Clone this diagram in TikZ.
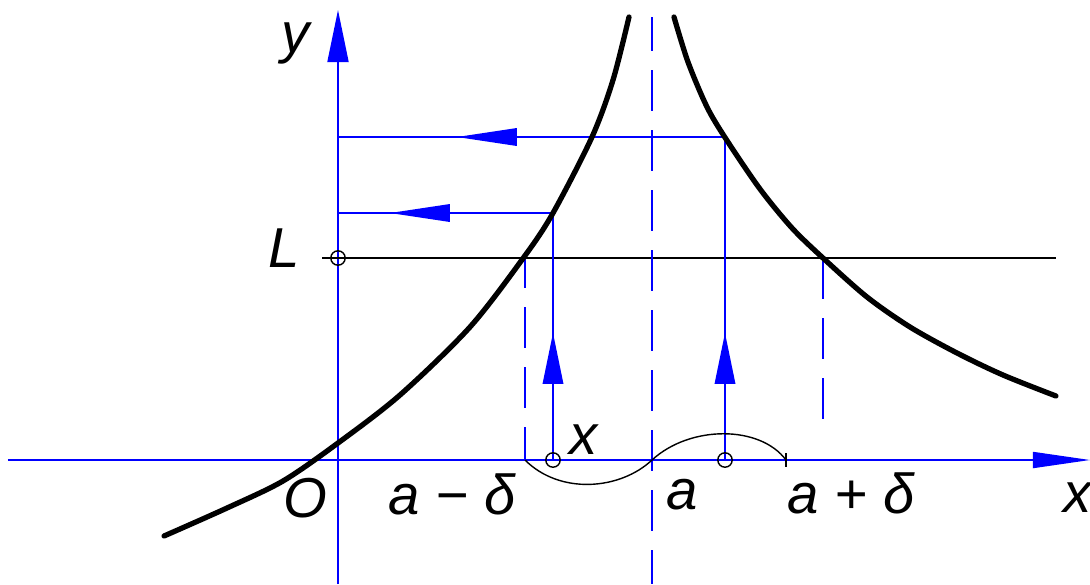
\documentclass[tikz,border=0pt]{standalone}
\usepackage{fontspec}
\setmainfont{Liberation Sans}
\usetikzlibrary{arrows.meta,decorations.markings}
\definecolor{axisblue}{RGB}{0,0,255}
\tikzset{
  axisline/.style={draw=axisblue, line width=0.5pt},
  dashguide/.style={draw=axisblue, line width=0.5pt, dash pattern=on 4.1mm off 1.9mm},
  branch/.style={line width=1.5pt, line cap=round, line join=round},
  hairline/.style={draw=black, line width=0.4pt},
  marker/.style={draw=black, line width=0.4pt},
  lbl/.style={font=\fontsize{16}{18}\selectfont\itshape, inner sep=0pt},
  leftarrow/.style={postaction={decorate}, decoration={markings,
      mark=at position #1 with {\arrow{Triangle[length=6mm,width=1.75mm]}}}},
  uparrow/.style={postaction={decorate}, decoration={markings,
      mark=at position #1 with {\arrow{Triangle[length=5.1mm,width=2.05mm]}}}},
}
\begin{document}
\begin{tikzpicture}[x=0.01cm, y=-0.01cm]
  \useasboundingbox (0,0) rectangle (1090,584);
  % key points
  \coordinate (yBot) at (338,584);
  \coordinate (yTop) at (338,10);
  \coordinate (xLeft) at (8,460);
  \coordinate (xRight) at (1090,460);
  \coordinate (Lpt) at (338,258);
  \coordinate (Lstart) at (322,258);
  \coordinate (Lend) at (1056,258);
  \coordinate (aTop) at (652,17);
  \coordinate (aBot) at (652,584);
  \coordinate (a) at (652,460);
  \coordinate (amd) at (525,460);
  \coordinate (amdL) at (525,258);
  \coordinate (apdL) at (823,258);
  \coordinate (apdE) at (823,435);
  \coordinate (x1) at (553,460);
  \coordinate (f1) at (553,213);
  \coordinate (y1) at (338,213);
  \coordinate (x2) at (725,460);
  \coordinate (f2) at (725,137);
  \coordinate (y2) at (338,137);
  \coordinate (apd) at (786,460);
  \coordinate (tickT) at (786,453);
  \coordinate (tickB) at (786,467);

  % axes
  \draw[axisline, -{Triangle[length=5.2mm,width=2.1mm]}] (yBot) -- (yTop);
  \draw[axisline, -{Triangle[length=5.7mm,width=1.6mm]}] (xLeft) -- (xRight);
  \draw[hairline, line width=0.5pt] (Lstart) -- (Lend);
  \draw[dashguide, dash phase=0.7mm] (aTop) -- (aBot);
  \draw[dashguide, dash phase=1.1mm] (amdL) -- (amd);
  \draw[dashguide] (apdL) -- (apdE);

  % projections
  \draw[axisline, uparrow=1.27cm] (x1) -- (f1);
  \draw[axisline, leftarrow=1.63cm] (f1) -- (y1);
  \draw[axisline, uparrow=1.27cm] (x2) -- (f2);
  \draw[axisline, leftarrow=2.68cm] (f2) -- (y2);

  % the two branches
  \draw[branch] plot[smooth] coordinates {(164,536) (227,508) (283,481) (338,443)
    (400,395) (470,327) (524,257) (553,213) (592,137) (613,80) (629,17)};
  \draw[branch] plot[smooth] coordinates {(674,17) (688,62) (707,107) (726,139)
    (760,189) (792,228) (823,258) (867,297) (910,327) (957,353) (1003,375) (1056,396)};

  % neighbourhood
  \draw[hairline] (amd) .. controls (560,495) and (620,490) .. (a)
    .. controls (690,425) and (760,425) .. (apd);
  \draw[hairline] (tickT) -- (tickB);
  \draw[marker] (Lpt) circle[radius=0.72mm];
  \draw[marker] (x1) circle[radius=0.72mm];
  \draw[marker] (x2) circle[radius=0.72mm];

  % labels
  \node[lbl] (ylab) at (296,43) {y};
  \node[lbl] (Llab) at (284,248) {L};
  \node[lbl] (Olab) at (305,498) {O};
  \node[lbl] (amdlab) at (452,494) {a − δ};
  \node[lbl] (alab) at (682,495) {a};
  \node[lbl] (apdlab) at (851,493) {a + δ};
  \node[lbl] (xptlab) at (584,440) {x};
  \node[lbl] (xlab) at (1078,498) {x};
\end{tikzpicture}
\end{document}
